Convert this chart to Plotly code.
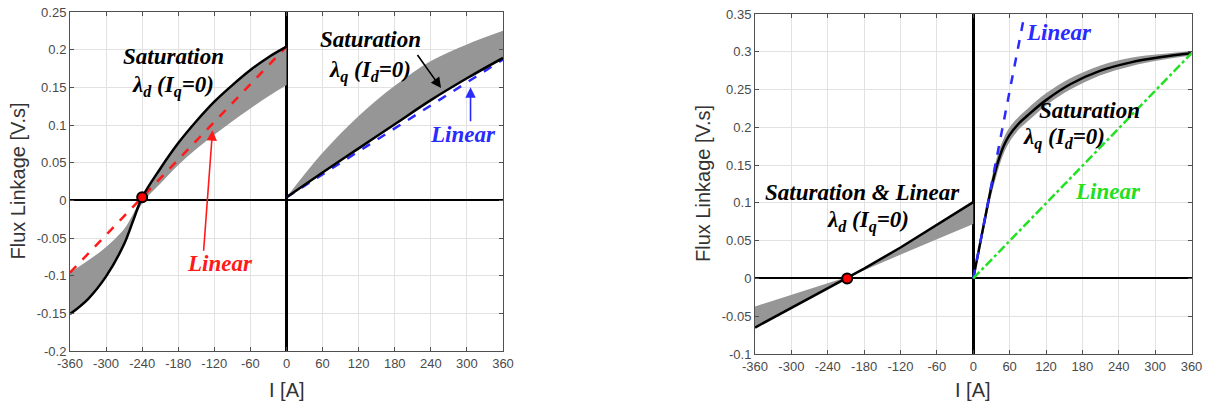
import plotly.graph_objects as go

# ---------------- data ----------------
# Left panel: lambda_d (I_q = 0)
Id_left = [-360, -330, -300, -270, -255, -240, -210, -180, -150, -120, -90, -60, -30, 0]
lam_d_sat_left = [-0.151, -0.131, -0.101, -0.058, -0.027, 0.004, 0.042, 0.076, 0.105, 0.131, 0.153, 0.173, 0.190, 0.204]
lam_d_band_hi_left = [-0.096, -0.080, -0.062, -0.038, -0.018, 0.004, 0.042, 0.076, 0.105, 0.131, 0.153, 0.173, 0.190, 0.204]
lam_d_band_lo_left = [-0.151, -0.131, -0.101, -0.059, -0.030, -0.004, 0.022, 0.047, 0.068, 0.087, 0.105, 0.122, 0.138, 0.153]
Id_lin_left = [-360, 0]
lam_d_lin_left = [-0.096, 0.204]
zero_cross_left = ([-240], [0.004])

# Left panel: lambda_q (I_d = 0)
Iq_left = [0, 60, 120, 180, 240, 300, 360]
lam_q_sat_left = [0.004, 0.037, 0.069, 0.101, 0.133, 0.162, 0.189]
lam_q_band_hi_left = [0.004, 0.063, 0.112, 0.152, 0.185, 0.207, 0.225]
Iq_lin_left = [0, 360]
lam_q_lin_left = [0.004, 0.187]

# Right panel: lambda_d (I_q = 0)
Id_right = [-360, -300, -240, -208, -180, -120, -60, 0]
lam_d_sat_right = [-0.065, -0.039, -0.014, 0.000, 0.013, 0.041, 0.071, 0.101]
lam_d_band_right = [-0.037, -0.022, -0.007, 0.002, 0.011, 0.032, 0.052, 0.072]
zero_cross_right = ([-208], [0.0])

# Right panel: lambda_q (I_d = 0)
Iq_right = [0, 10, 20, 30, 40, 50, 60, 75, 90, 120, 160, 210, 260, 310, 360]
lam_q_sat_right = [0, 0.041, 0.082, 0.121, 0.152, 0.175, 0.190, 0.205, 0.216, 0.236, 0.257, 0.275, 0.286, 0.293, 0.298]
lam_q_band_hi_right = [0, 0.047, 0.090, 0.131, 0.163, 0.185, 0.200, 0.214, 0.225, 0.245, 0.265, 0.282, 0.292, 0.297, 0.301]
lam_q_band_lo_right = [0, 0.034, 0.073, 0.111, 0.141, 0.165, 0.181, 0.197, 0.208, 0.229, 0.250, 0.269, 0.281, 0.289, 0.295]
Iq_lin_blue_right = [0, 84]
lam_q_lin_blue_right = [0, 0.347]
Iq_lin_green_right = [0, 360]
lam_q_lin_green_right = [0, 0.298]

# Ticks
x_ticks = [-360, -300, -240, -180, -120, -60, 0, 60, 120, 180, 240, 300, 360]
x_tick_labels = ["-360", "-300", "-240", "-180", "-120", "-60", "0", "60", "120", "180", "240", "300", "360"]
y_ticks_left = [-0.2, -0.15, -0.1, -0.05, 0, 0.05, 0.1, 0.15, 0.2, 0.25]
y_tick_labels_left = ["-0.2", "-0.15", "-0.1", "-0.05", "0", "0.05", "0.1", "0.15", "0.2", "0.25"]
y_ticks_right = [-0.1, -0.05, 0, 0.05, 0.1, 0.15, 0.2, 0.25, 0.3, 0.35]
y_tick_labels_right = ["-0.1", "-0.05", "0", "0.05", "0.1", "0.15", "0.2", "0.25", "0.3", "0.35"]

# ---------------- styles ----------------
GRAY = "rgb(150,150,150)"
RED = "#ff1a1a"
BLUE = "#2a2aff"
GREEN = "#22e022"
SERIF = "Liberation Serif"
SANS = "Liberation Sans"

W, H = 1210, 412

def px_x(p):
    return p / W

def px_y(p):
    return 1 - p / H

fig = go.Figure()

def band(x, lo, hi, xa, ya):
    fig.add_trace(go.Scatter(x=x, y=lo, mode="lines", line=dict(width=0, color=GRAY, shape="spline"),
                             xaxis=xa, yaxis=ya, showlegend=False, hoverinfo="skip"))
    fig.add_trace(go.Scatter(x=x, y=hi, mode="lines", line=dict(width=0, color=GRAY, shape="spline"),
                             fill="tonexty", fillcolor=GRAY, xaxis=xa, yaxis=ya, showlegend=False, hoverinfo="skip"))

# Left panel
band(Id_left, lam_d_band_lo_left, lam_d_band_hi_left, "x", "y")
band(Iq_left, lam_q_sat_left, lam_q_band_hi_left, "x", "y")
fig.add_trace(go.Scatter(x=Id_lin_left, y=lam_d_lin_left, mode="lines",
                         line=dict(color=RED, width=2.5, dash="dash"), xaxis="x", yaxis="y", showlegend=False))
fig.add_trace(go.Scatter(x=Iq_lin_left, y=lam_q_lin_left, mode="lines",
                         line=dict(color=BLUE, width=2.5, dash="dash"), xaxis="x", yaxis="y", showlegend=False))
fig.add_trace(go.Scatter(x=Id_left, y=lam_d_sat_left, mode="lines",
                         line=dict(color="black", width=2.5, shape="spline"), xaxis="x", yaxis="y", showlegend=False))
fig.add_trace(go.Scatter(x=Iq_left, y=lam_q_sat_left, mode="lines",
                         line=dict(color="black", width=2.5, shape="spline"), xaxis="x", yaxis="y", showlegend=False))
fig.add_trace(go.Scatter(x=zero_cross_left[0], y=zero_cross_left[1], mode="markers",
                         marker=dict(color="red", size=10, line=dict(color="black", width=2)),
                         xaxis="x", yaxis="y", showlegend=False))

# Right panel
fig.add_trace(go.Scatter(x=Id_right, y=lam_d_band_right, mode="lines", line=dict(width=0, color=GRAY),
                         xaxis="x2", yaxis="y2", showlegend=False, hoverinfo="skip"))
fig.add_trace(go.Scatter(x=Id_right, y=lam_d_sat_right, mode="lines", line=dict(width=0, color=GRAY),
                         fill="tonexty", fillcolor=GRAY, xaxis="x2", yaxis="y2", showlegend=False, hoverinfo="skip"))
band(Iq_right, lam_q_band_lo_right, lam_q_band_hi_right, "x2", "y2")
fig.add_trace(go.Scatter(x=Id_right, y=lam_d_sat_right, mode="lines",
                         line=dict(color="black", width=2.5), xaxis="x2", yaxis="y2", showlegend=False))
fig.add_trace(go.Scatter(x=Iq_right, y=lam_q_sat_right, mode="lines",
                         line=dict(color="black", width=2.5, shape="spline"), xaxis="x2", yaxis="y2", showlegend=False))
fig.add_trace(go.Scatter(x=Iq_lin_blue_right, y=lam_q_lin_blue_right, mode="lines",
                         line=dict(color=BLUE, width=2.5, dash="dash"), xaxis="x2", yaxis="y2", showlegend=False))
fig.add_trace(go.Scatter(x=Iq_lin_green_right, y=lam_q_lin_green_right, mode="lines",
                         line=dict(color=GREEN, width=2.5, dash="dashdot"), xaxis="x2", yaxis="y2", showlegend=False))
fig.add_trace(go.Scatter(x=zero_cross_right[0], y=zero_cross_right[1], mode="markers",
                         marker=dict(color="red", size=10, line=dict(color="black", width=2)),
                         xaxis="x2", yaxis="y2", showlegend=False))

axis_common = dict(
    showgrid=True, gridcolor="#e2e2e2", gridwidth=1,
    showline=True, linecolor="#505050", linewidth=1, mirror="ticks",
    ticks="inside", ticklen=4, tickcolor="#505050",
    tickfont=dict(family=SANS, size=13, color="#4a4a4a"),
    zeroline=True, zerolinecolor="black", automargin=False,
    ticklabeloverflow="allow",
)

fig.update_layout(
    template="none",
    width=W, height=H,
    margin=dict(l=0, r=0, t=0, b=0, pad=0),
    paper_bgcolor="white", plot_bgcolor="white",
    showlegend=False,
    font=dict(family=SANS),
    xaxis=dict(domain=[px_x(70), px_x(503)], range=[-360, 360], tickvals=x_ticks, ticktext=x_tick_labels,
               anchor="y", zerolinewidth=3, **axis_common),
    yaxis=dict(domain=[px_y(351), px_y(12)], range=[-0.2, 0.25], tickvals=y_ticks_left,
               ticktext=y_tick_labels_left, anchor="x", zerolinewidth=2, **axis_common),
    xaxis2=dict(domain=[px_x(755), px_x(1191.5)], range=[-360, 360], tickvals=x_ticks, ticktext=x_tick_labels,
                anchor="y2", zerolinewidth=2.5, **axis_common),
    yaxis2=dict(domain=[px_y(354), px_y(14)], range=[-0.1, 0.35], tickvals=y_ticks_right,
                ticktext=y_tick_labels_right, anchor="x2", zerolinewidth=2, **axis_common),
)

def txt(x, y, s, color="black", xref="x", yref="y", size=23):
    fig.add_annotation(x=x, y=y, xref=xref, yref=yref, text=s, showarrow=False,
                       xanchor="center", yanchor="middle",
                       font=dict(family=SERIF, size=size, color=color))

def arrow(x, y, ax, ay, color, xref="x", yref="y"):
    fig.add_annotation(x=x, y=y, ax=ax, ay=ay, xref=xref, yref=yref, axref=xref, ayref=yref,
                       text="", showarrow=True, arrowhead=2, arrowsize=1.3, arrowwidth=1.6, arrowcolor=color)

# Left panel labels
txt(-188, 0.191, "<b><i>Saturation</i></b>")
txt(-188, 0.151, "<b><i>λ<sub>d</sub> (I<sub>q</sub>=0)</i></b>")
txt(-111, -0.084, "<b><i>Linear</i></b>", color=RED)
arrow(-123, 0.093, -138, -0.069, RED)
txt(140, 0.2135, "<b><i>Saturation</i></b>")
txt(139, 0.171, "<b><i>λ<sub>q</sub> (I<sub>d</sub>=0)</i></b>")
arrow(257, 0.149, 216, 0.195, "black")
txt(293, 0.088, "<b><i>Linear</i></b>", color=BLUE)
arrow(306, 0.150, 306, 0.103, BLUE)

# Right panel labels
txt(-182, 0.114, "<b><i>Saturation &amp; Linear</i></b>", xref="x2", yref="y2")
txt(-173, 0.075, "<b><i>λ<sub>d</sub> (I<sub>q</sub>=0)</i></b>", xref="x2", yref="y2")
txt(142, 0.326, "<b><i>Linear</i></b>", color=BLUE, xref="x2", yref="y2")
txt(192, 0.2226, "<b><i>Saturation</i></b>", xref="x2", yref="y2")
txt(149, 0.185, "<b><i>λ<sub>q</sub> (I<sub>d</sub>=0)</i></b>", xref="x2", yref="y2")
txt(223, 0.1146, "<b><i>Linear</i></b>", color=GREEN, xref="x2", yref="y2")

# Axis titles
for xc in (286.5, 973):
    fig.add_annotation(x=px_x(xc), y=px_y(390), xref="paper", yref="paper", text="I [A]",
                       showarrow=False, xanchor="center", yanchor="middle",
                       font=dict(family=SANS, size=20, color="#333333"))
for xc, yc in ((17.5, 181), (703, 184)):
    fig.add_annotation(x=px_x(xc), y=px_y(yc), xref="paper", yref="paper", text="Flux Linkage [V.s]",
                       showarrow=False, textangle=-90, xanchor="center", yanchor="middle",
                       font=dict(family=SANS, size=20, color="#333333"))

fig.write_html("out.html", config={"displayModeBar": False},
               post_script="document.body.style.margin='0px';")
